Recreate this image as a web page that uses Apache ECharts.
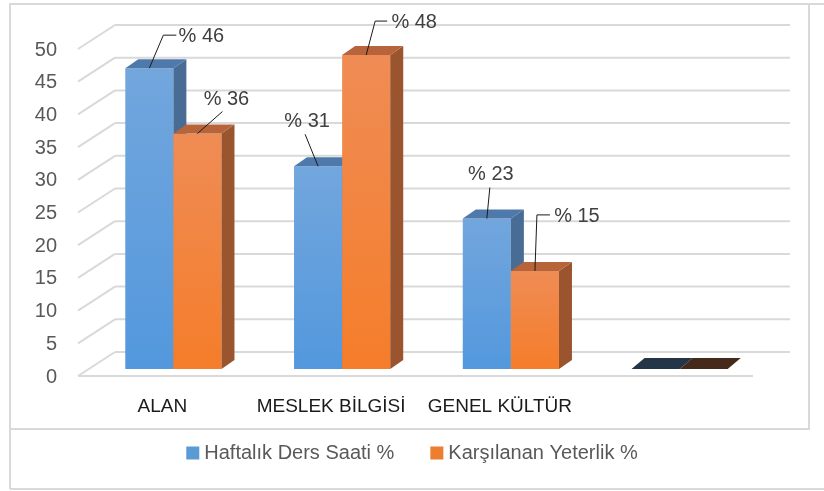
<!DOCTYPE html>
<html>
<head>
<meta charset="utf-8">
<script src="https://cdn.jsdelivr.net/npm/echarts@6/dist/echarts.min.js"></script>
<style>
  html, body { margin: 0; padding: 0; background: #fff; }
  #graph { width: 824px; height: 491px; }
</style>
</head>
<body>
<div id="graph"></div>
<script>
// 类别 / 系列数据
var categories = ['ALAN', 'MESLEK BİLGİSİ', 'GENEL KÜLTÜR', ''];
var seriesNames = ['Haftalık Ders Saati %', 'Karşılanan Yeterlik %'];
var haftalikData = [46, 31, 23, 0];
var karsilananData = [36, 48, 15, 0];
var yTicks = [0, 5, 10, 15, 20, 25, 30, 35, 40, 45, 50];

// 标签位置（相对柱顶中心）：文字中心偏移 + 引导线折点
var haftalikLabels = [
  { dx: 52, dy: -32, line: [[0, 0], [14, -33], [27, -33]] },
  { dx: -11, dy: -45, line: [[0, 0], [-13, -32]] },
  { dx: 4, dy: -44, line: [[0, 0], [3, -31]] },
  null
];
var karsilananLabels = [
  { dx: 29, dy: -34, line: [[0, 0], [25, -22]] },
  { dx: 48, dy: -33, line: [[0, 0], [9, -34], [21, -34]] },
  { dx: 42, dy: -54, line: [[0, 0], [2, -56], [15, -56]] },
  null
];

var blueStyle = { top: '#72a6dd', bottom: '#5398dd', side: '#486c94', cap: '#4f79ab', flat: '#243547' };
var orangeStyle = { top: '#ef8c55', bottom: '#f57d2a', side: '#9a552e', cap: '#b8643b', flat: '#45291a' };

// 3D 深度（像素）
var DX = 13, DY = -9;

var myChart = echarts.init(document.getElementById('graph'));

function makeBar(side, labels, st) {
  return function (params, api) {
    var i = params.dataIndex;
    var val = api.value(1);
    var top = api.coord([api.value(0), val]);
    var base = api.coord([api.value(0), 0]);
    var w = api.size([1, 0])[0] * 0.285;
    var x0 = side === 0 ? top[0] - w : top[0];
    var x1 = x0 + w;
    var yt = top[1], yb = base[1];
    var children = [];
    if (val > 0) {
      children.push({
        type: 'rect',
        shape: { x: x0, y: yt, width: w, height: yb - yt },
        style: { fill: new echarts.graphic.LinearGradient(0, 0, 0, 1, [
          { offset: 0, color: st.top }, { offset: 1, color: st.bottom }
        ]) }
      });
      children.push({
        type: 'polygon',
        shape: { points: [[x1, yt], [x1 + DX, yt + DY], [x1 + DX, yb + DY], [x1, yb]] },
        style: { fill: st.side }
      });
      children.push({
        type: 'polygon',
        shape: { points: [[x0, yt], [x0 + DX, yt + DY], [x1 + DX, yt + DY], [x1, yt]] },
        style: { fill: st.cap }
      });
    } else {
      children.push({
        type: 'polygon',
        shape: { points: [[x0, yb], [x0 + DX, yb + DY - 2], [x1 + DX, yb + DY - 2], [x1, yb]] },
        style: { fill: st.flat }
      });
    }
    var lp = labels[i];
    if (lp) {
      var cx = x0 + w / 2;
      children.push({
        type: 'polyline',
        shape: { points: lp.line.map(function (p) { return [cx + p[0], yt + p[1]]; }) },
        style: { stroke: '#1a1a1a', lineWidth: 1, fill: null }
      });
      children.push({
        type: 'text',
        x: cx + lp.dx,
        y: yt + lp.dy,
        style: {
          text: '% ' + val,
          fill: '#404040',
          fontSize: 20,
          fontFamily: 'Liberation Sans',
          align: 'center',
          verticalAlign: 'middle'
        }
      });
    }
    return { type: 'group', children: children };
  };
}

// 背景网格线（侧墙 + 后墙）和 Y 轴刻度文字
function renderGrid(params, api) {
  var v = api.value(1);
  var p = api.coord([0, v]);
  var gx = params.coordSys.x, gw = params.coordSys.width;
  var fx = gx - 11, fy = p[1] + 7, bx = gx + 26, by = p[1] - 17;
  var ls = { stroke: '#d9d9d9', lineWidth: 2 };
  var children = [
    { type: 'line', shape: { x1: fx, y1: fy, x2: bx, y2: by }, style: ls },
    { type: 'line', shape: { x1: bx, y1: by, x2: bx + gw, y2: by }, style: ls },
    {
      type: 'text', x: 57, y: fy + 1,
      style: {
        text: String(v), fill: '#595959', fontSize: 20, fontFamily: 'Liberation Sans',
        align: 'right', verticalAlign: 'middle'
      }
    }
  ];
  if (v === 0) {
    children.push({ type: 'line', shape: { x1: fx, y1: fy, x2: fx + gw, y2: fy }, style: ls });
  }
  return { type: 'group', children: children };
}

var option = {
  animation: false,
  color: ['#5b9bd5', '#ed7d31'],
  grid: { left: 89, right: 60, top: 42, bottom: 122 },
  legend: {
    data: seriesNames,
    left: 'center',
    top: 438,
    icon: 'rect',
    itemWidth: 13,
    itemHeight: 13,
    itemGap: 36,
    textStyle: { color: '#595959', fontSize: 20, fontFamily: 'Liberation Sans' }
  },
  xAxis: {
    type: 'category',
    data: categories,
    axisLine: { show: false },
    axisTick: { show: false },
    axisLabel: {
      color: '#1a1a1a',
      fontSize: 19,
      fontFamily: 'Liberation Sans',
      margin: 28,
      padding: [0, 22, 0, 0],
      interval: 0
    }
  },
  yAxis: {
    type: 'value',
    min: 0,
    max: 50,
    interval: 5,
    splitLine: { show: false },
    axisLine: { show: false },
    axisTick: { show: false },
    axisLabel: { show: false }
  },
  graphic: [
    { type: 'rect', shape: { x: 10, y: 4, width: 799, height: 425 }, style: { fill: null, stroke: '#d9d9d9', lineWidth: 2 }, silent: true },
    { type: 'line', shape: { x1: 809, y1: 4, x2: 824, y2: 4 }, style: { stroke: '#d9d9d9', lineWidth: 2 }, silent: true },
    { type: 'line', shape: { x1: 10, y1: 429, x2: 10, y2: 489 }, style: { stroke: '#d9d9d9', lineWidth: 2 }, silent: true },
    { type: 'line', shape: { x1: 10, y1: 489, x2: 824, y2: 489 }, style: { stroke: '#d9d9d9', lineWidth: 2 }, silent: true }
  ],
  series: [
    {
      name: 'grid',
      type: 'custom',
      silent: true,
      z: 1,
      renderItem: renderGrid,
      data: yTicks.map(function (v) { return [0, v]; })
    },
    {
      name: seriesNames[0],
      type: 'custom',
      z: 2,
      itemStyle: { color: '#5b9bd5' },
      renderItem: makeBar(0, haftalikLabels, blueStyle),
      data: haftalikData.map(function (v, i) { return [i, v]; })
    },
    {
      name: seriesNames[1],
      type: 'custom',
      z: 3,
      itemStyle: { color: '#ed7d31' },
      renderItem: makeBar(1, karsilananLabels, orangeStyle),
      data: karsilananData.map(function (v, i) { return [i, v]; })
    }
  ]
};
myChart.setOption(option);
</script>
</body>
</html>
